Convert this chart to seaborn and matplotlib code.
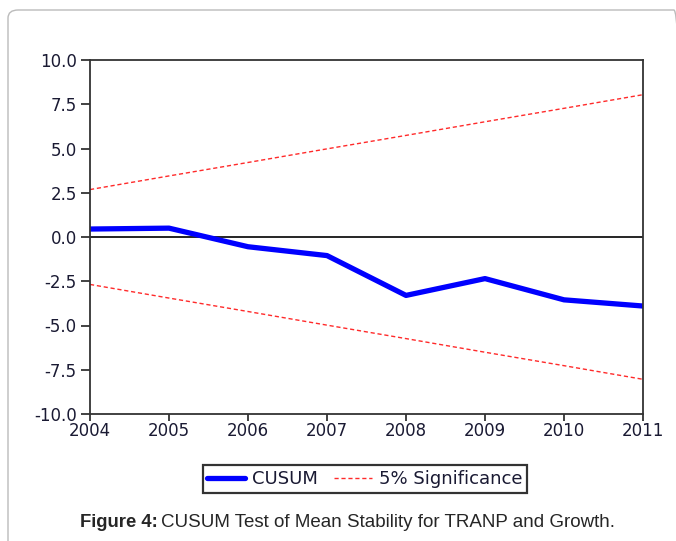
import numpy as np
import pandas as pd
import seaborn as sns
import matplotlib
matplotlib.use("Agg")
import matplotlib.pyplot as plt
from matplotlib.patches import FancyBboxPatch

# Data
years = [2004, 2005, 2006, 2007, 2008, 2009, 2010, 2011]
cusum = [0.45, 0.5, -0.55, -1.05, -3.3, -2.35, -3.55, -3.9]
upper = [2.68, 3.45, 4.21, 4.98, 5.74, 6.51, 7.27, 8.04]
lower = [-2.68, -3.45, -4.21, -4.98, -5.74, -6.51, -7.27, -8.04]
y_ticks = [-10.0, -7.5, -5.0, -2.5, 0.0, 2.5, 5.0, 7.5, 10.0]

df = pd.DataFrame({"year": years, "cusum": cusum, "upper": upper, "lower": lower})

sns.set_theme(style="ticks")
plt.rcParams["font.family"] = ["DejaVu Sans"]

fig = plt.figure(figsize=(6.76, 5.41), dpi=100)

# rounded outer frame
frame = FancyBboxPatch((8 / 676, -0.05), 1.0, 1.0 - 10 / 541 + 0.05,
                       boxstyle="round,pad=0,rounding_size=0.015",
                       transform=fig.transFigure, fill=False,
                       edgecolor="#bbbbbb", linewidth=1.0, clip_on=False)
fig.patches.append(frame)

ax = fig.add_axes([90 / 676, 127 / 541, 553 / 676, 354 / 541])

sns.lineplot(data=df, x="year", y="cusum", ax=ax, color="#0000ff",
             linewidth=3.8, label="CUSUM")
sns.lineplot(data=df, x="year", y="upper", ax=ax, color="#ff2a2a",
             linewidth=1.0, linestyle=(0, (3, 2)), label="5% Significance")
sns.lineplot(data=df, x="year", y="lower", ax=ax, color="#ff2a2a",
             linewidth=1.0, linestyle=(0, (3, 2)), legend=False)
ax.axhline(0, color="black", linewidth=1.2, zorder=1)

ax.set_xlim(2004, 2011)
ax.set_ylim(-10, 10)
ax.set_xticks(years)
ax.set_xticklabels([str(y) for y in years])
ax.set_yticks(y_ticks)
ax.set_yticklabels([f"{v:.1f}" for v in y_ticks])
ax.set_xlabel("")
ax.set_ylabel("")
for s in ax.spines.values():
    s.set_color("#333333")
    s.set_linewidth(1.3)
ax.tick_params(axis="y", direction="out", length=6.5, width=1.3,
               color="#333333", labelsize=12, labelcolor="#1a1a33", pad=3)
ax.tick_params(axis="x", direction="out", length=5, width=1.3,
               color="#333333", labelsize=12, labelcolor="#1a1a33", pad=1)

leg = ax.legend(loc="center", bbox_to_anchor=(365 / 676, 62 / 541),
                bbox_transform=fig.transFigure, ncol=2, frameon=True,
                fancybox=False, edgecolor="black", fontsize=13,
                handlelength=2.1, columnspacing=0.9, handletextpad=0.4,
                borderpad=0.25, borderaxespad=0)
leg.get_frame().set_linewidth(1.6)
leg.get_frame().set_facecolor("white")
for t in leg.get_texts():
    t.set_color("#1a1a33")

# caption
cap_font = ["Liberation Sans", "DejaVu Sans"]
fig.text(80 / 676, 14 / 541, "Figure 4:", fontsize=13.3, fontweight="bold",
         family=cap_font, ha="left", va="baseline")
fig.text(161 / 676, 14 / 541, "CUSUM Test of Mean Stability for TRANP and Growth.",
         fontsize=13.5, family=cap_font, ha="left", va="baseline")

fig.savefig("out.png", dpi=100)
plt.close(fig)
